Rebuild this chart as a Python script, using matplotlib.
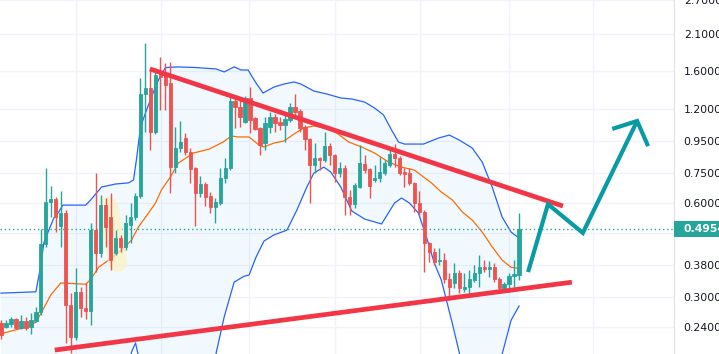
import matplotlib
matplotlib.use('Agg')
import matplotlib.pyplot as plt
from matplotlib.patches import Rectangle
from matplotlib.ticker import NullLocator
import matplotlib.transforms as mtransforms
import numpy as np

opens = [0.246, 0.239, 0.245, 0.254, 0.237, 0.250, 0.239, 0.250, 0.268, 0.443,
         0.605, 0.619, 0.506, 0.557, 0.282, 0.223, 0.311, 0.276, 0.270, 0.491,
         0.414, 0.591, 0.541, 0.414, 0.463, 0.434, 0.510, 0.541, 0.632, 1.346,
         1.406, 1.015, 1.585, 1.549, 1.460, 0.783, 0.902, 0.971, 0.876, 0.777,
         0.646, 0.691, 0.632, 0.583, 0.600, 0.723, 0.777, 1.277, 1.222, 1.094,
         1.307, 1.127, 1.047, 0.936, 1.054, 1.135, 1.094, 1.070, 1.110, 1.222,
         1.186, 1.054, 0.964, 0.795, 0.837, 0.825, 0.915, 0.856, 0.749, 0.777,
         0.627, 0.595, 0.676, 0.801, 0.771, 0.712, 0.723, 0.749, 0.795, 0.862,
         0.837, 0.755, 0.749, 0.697, 0.600, 0.562, 0.447, 0.418, 0.390, 0.393,
         0.341, 0.332, 0.357, 0.317, 0.322, 0.339, 0.357, 0.373, 0.368, 0.373,
         0.341, 0.320, 0.329, 0.349, 0.352]
highs = [0.252, 0.252, 0.258, 0.256, 0.262, 0.258, 0.266, 0.278, 0.495, 0.777,
         0.681, 0.627, 0.656, 0.570, 0.309, 0.370, 0.322, 0.332, 0.517, 0.749,
         0.637, 0.623, 0.646, 0.491, 0.474, 0.549, 0.600, 0.646, 1.515, 1.964,
         1.632, 1.632, 1.770, 1.693, 1.705, 1.054, 1.102, 1.008, 0.902, 0.783,
         0.734, 0.702, 0.651, 0.623, 0.777, 0.837, 1.346, 1.317, 1.307, 1.326,
         1.417, 1.135, 1.054, 1.135, 1.178, 1.160, 1.135, 1.169, 1.259, 1.346,
         1.204, 1.070, 0.971, 0.936, 0.843, 1.015, 0.936, 0.862, 0.813, 0.795,
         0.661, 0.697, 0.922, 0.856, 0.777, 0.795, 0.843, 0.825, 0.889, 0.929,
         0.850, 0.777, 0.777, 0.702, 0.656, 0.570, 0.450, 0.431, 0.431, 0.414,
         0.357, 0.384, 0.365, 0.357, 0.365, 0.379, 0.408, 0.393, 0.390, 0.384,
         0.347, 0.334, 0.357, 0.393, 0.557]
lows = [0.220, 0.237, 0.239, 0.236, 0.236, 0.234, 0.228, 0.248, 0.262, 0.434,
        0.541, 0.484, 0.434, 0.213, 0.198, 0.218, 0.258, 0.254, 0.243, 0.360,
        0.402, 0.434, 0.365, 0.408, 0.418, 0.424, 0.447, 0.529, 0.623, 1.015,
        0.889, 1.000, 1.195, 1.195, 0.646, 0.749, 0.876, 0.856, 0.697, 0.506,
        0.627, 0.587, 0.557, 0.517, 0.591, 0.697, 0.766, 1.047, 1.054, 1.086,
        1.008, 1.031, 0.856, 0.889, 1.008, 1.015, 1.031, 0.943, 1.094, 1.135,
        1.015, 0.889, 0.600, 0.749, 0.766, 0.813, 0.795, 0.702, 0.728, 0.549,
        0.549, 0.578, 0.671, 0.749, 0.623, 0.702, 0.702, 0.739, 0.783, 0.783,
        0.739, 0.676, 0.686, 0.562, 0.549, 0.360, 0.387, 0.379, 0.379, 0.332,
        0.292, 0.320, 0.309, 0.311, 0.300, 0.334, 0.322, 0.360, 0.347, 0.334,
        0.317, 0.317, 0.311, 0.322, 0.339]
closes = [0.226, 0.246, 0.254, 0.237, 0.250, 0.237, 0.252, 0.268, 0.443, 0.605,
          0.619, 0.541, 0.557, 0.282, 0.223, 0.311, 0.276, 0.270, 0.491, 0.414,
          0.591, 0.503, 0.393, 0.463, 0.434, 0.517, 0.541, 0.632, 1.346, 1.406,
          1.015, 1.549, 1.526, 1.438, 0.783, 0.902, 0.943, 0.876, 0.771, 0.646,
          0.691, 0.627, 0.583, 0.605, 0.723, 0.777, 1.277, 1.222, 1.135, 1.307,
          1.110, 1.039, 0.922, 1.086, 1.135, 1.086, 1.070, 1.119, 1.222, 1.178,
          1.047, 0.964, 0.795, 0.837, 0.825, 0.915, 0.856, 0.749, 0.777, 0.627,
          0.595, 0.686, 0.807, 0.766, 0.681, 0.723, 0.755, 0.807, 0.862, 0.837,
          0.749, 0.744, 0.697, 0.600, 0.562, 0.447, 0.418, 0.387, 0.393, 0.341,
          0.322, 0.357, 0.320, 0.322, 0.341, 0.357, 0.373, 0.368, 0.373, 0.341,
          0.320, 0.329, 0.349, 0.354, 0.4954]

# bollinger bands (bar index, price)
upper_x = [0, 7, 8, 8.6, 9.6, 10.6, 11.6, 12.4, 17, 18, 20.2, 23, 25.6, 26.6, 27.2, 28,
           29, 30.2, 31.6, 33, 35.6, 39.2, 43.2, 44.8, 46.8, 48.2, 49.6, 51.2, 52.6,
           54.8, 56.8, 58.8, 60.2, 62.8, 65.4, 68.2, 70.4, 73, 75, 76.8, 78.4, 79.8,
           81, 84.8, 87.8, 90, 92, 94.6, 96.6, 98.6, 100.6, 102.4, 104]
upper_y = [0.308, 0.311, 0.379, 0.447, 0.491, 0.537, 0.562, 0.591, 0.591, 0.614, 0.676,
           0.691, 0.697, 0.712, 0.831, 1.054, 1.169, 1.317, 1.493, 1.637, 1.645, 1.637,
           1.620, 1.585, 1.645, 1.608, 1.608, 1.460, 1.356, 1.417, 1.449, 1.471, 1.449,
           1.376, 1.346, 1.307, 1.297, 1.268, 1.213, 1.152, 1.031, 0.943, 0.929, 0.929,
           0.971, 0.993, 0.957, 0.902, 0.813, 0.676, 0.541, 0.484, 0.463]
basis_x = [0, 4, 7, 8.4, 10, 12, 17, 18, 19.6, 21.6, 24.2, 26.2, 27.6, 29.6, 31, 32.2,
           34, 35.6, 38.6, 41.8, 44.6, 46.2, 47.6, 49.8, 51.8, 52.8, 54.8, 56.8, 58.8,
           60.8, 62.8, 65.4, 67.4, 69.8, 72.4, 75, 77.8, 80.4, 83, 84.8, 86.4, 88.4,
           90.6, 92.6, 94.6, 96.6, 98.6, 100.6, 102.4, 104]
basis_y = [0.228, 0.237, 0.248, 0.272, 0.304, 0.332, 0.329, 0.341, 0.373, 0.393, 0.424,
           0.456, 0.503, 0.557, 0.600, 0.661, 0.728, 0.807, 0.869, 0.895, 0.943, 0.986,
           0.979, 0.979, 0.922, 0.909, 0.936, 0.950, 1.000, 1.047, 1.062, 1.047, 1.008,
           0.943, 0.909, 0.869, 0.813, 0.783, 0.766, 0.728, 0.697, 0.651, 0.614, 0.562,
           0.529, 0.484, 0.434, 0.393, 0.373, 0.370]
lower_x = [0, 7, 8.4, 25, 26.2, 27, 27.8, 29, 42, 43.2, 44.8, 46.8, 48.8, 49.8, 51.2,
           52.8, 54.8, 57.4, 59.4, 61.4, 62.8, 64.8, 66.2, 68.2, 70.4, 73, 76.4, 79,
           80.4, 82, 83.8, 85.4, 87, 88.4, 90.6, 92, 94, 99, 100.6, 102.4, 104]
lower_y = [0.148, 0.148, 0.096, 0.140, 0.199, 0.213, 0.187, 0.096, 0.096, 0.198, 0.258,
           0.334, 0.349, 0.352, 0.402, 0.453, 0.474, 0.491, 0.570, 0.676, 0.749, 0.783,
           0.755, 0.676, 0.566, 0.533, 0.514, 0.600, 0.623, 0.600, 0.557, 0.467, 0.384,
           0.339, 0.246, 0.198, 0.120, 0.120, 0.196, 0.252, 0.280]

# drawings on the chart
resist_x = [29.9, 112.8]
resist_y = [1.620, 0.587]
support_x = [10.8, 114.6]
support_y = [0.202, 0.334]
arrow_x = [105.8, 109.8, 116.8, 127.7]
arrow_y = [0.360, 0.595, 0.481, 1.102]
head_x = [122.7, 127.7, 129.9]
head_y = [1.039, 1.102, 0.915]
mark_x = [21.6, 23.4]
mark_y = [0.585, 0.387]

price_ticks = [0.24, 0.30, 0.38, 0.48, 0.60, 0.75, 0.95, 1.2, 1.6, 2.1, 2.7]
price_labels = ['0.2400', '0.3000', '0.3800', '', '0.6000', '0.7500', '0.9500',
                '1.2000', '1.6000', '2.1000', '2.7000']
date_grid = [15.1, 32.1, 49.8, 67.1, 84.1, 102.0, 118.9]
last_price = 0.4954

green = '#26a69a'
red = '#ef5350'

fig = plt.figure(figsize=(7.19, 3.54), dpi=100)
ax = fig.add_axes([0, 0, 674 / 719, 1])
ax.set_yscale('log')
ax.set_xlim(-0.2, 135.1)
ax.set_ylim(0.1962, 2.70)

ax.set_yticks(price_ticks)
ax.set_yticklabels(price_labels)
ax.yaxis.set_minor_locator(NullLocator())
ax.set_xticks(date_grid)
ax.set_xticklabels([])
ax.grid(True, color='#f0f3fa', linewidth=1)
ax.set_axisbelow(True)
ax.yaxis.tick_right()
ax.tick_params(axis='both', length=0)
ax.tick_params(axis='y', pad=7, labelsize=7.8, labelcolor='#131722')
for s in ['top', 'left', 'bottom']:
    ax.spines[s].set_visible(False)
ax.spines['right'].set_color('#e0e3eb')

# bands
fx = np.linspace(0, 104, 600)
up_i = np.exp(np.interp(fx, upper_x, np.log(upper_y)))
lo_i = np.exp(np.interp(fx, lower_x, np.log(lower_y)))
ax.fill_between(fx, lo_i, up_i, color='#2196f3', alpha=0.06, linewidth=0, zorder=1)
ax.plot(upper_x, upper_y, color='#2962ff', linewidth=0.9, zorder=2)
ax.plot(lower_x, lower_y, color='#2962ff', linewidth=0.9, zorder=2)
ax.plot(basis_x, basis_y, color='#ff6d00', linewidth=0.9, zorder=2)

# highlighter mark
ax.plot(mark_x, mark_y, color='#fbf3c4', alpha=0.75, linewidth=14,
        solid_capstyle='round', zorder=2.5)

# candles
idx = np.arange(len(opens))
o = np.array(opens)
c = np.array(closes)
cols = [green if c[i] >= o[i] else red for i in idx]
ax.vlines(idx, lows, highs, colors=cols, linewidth=1, zorder=3)
ax.bar(idx, np.abs(c - o), bottom=np.minimum(o, c), width=0.66, color=cols,
       edgecolor=cols, linewidth=0.6, zorder=4)

# last price line and label
ax.axhline(last_price, color=green, linewidth=1, linestyle=(0, (1, 2)), zorder=2)
trans = mtransforms.blended_transform_factory(ax.transAxes, ax.transData)
ax.add_patch(Rectangle((1.0, last_price / 1.062), 0.1, last_price * 1.062 - last_price / 1.062,
                       transform=trans, facecolor=green, edgecolor='none',
                       clip_on=False, zorder=10))
ax.text(1.014, last_price, '0.4954', transform=trans, ha='left', va='center',
        color='white', fontsize=7.8, fontweight='bold', clip_on=False, zorder=11)

# trend lines
ax.plot(resist_x, resist_y, color='#f23645', linewidth=3.4, solid_capstyle='butt', zorder=6)
ax.plot(support_x, support_y, color='#f23645', linewidth=3.4, solid_capstyle='butt', zorder=6)

# projected path
ax.plot(arrow_x, arrow_y, color='#089ba3', linewidth=3.0, solid_joinstyle='miter',
        solid_capstyle='butt', zorder=7)
ax.plot(head_x, head_y, color='#089ba3', linewidth=3.0, solid_joinstyle='miter',
        solid_capstyle='butt', zorder=7)

fig.savefig('out.png', dpi=100, facecolor='white')
